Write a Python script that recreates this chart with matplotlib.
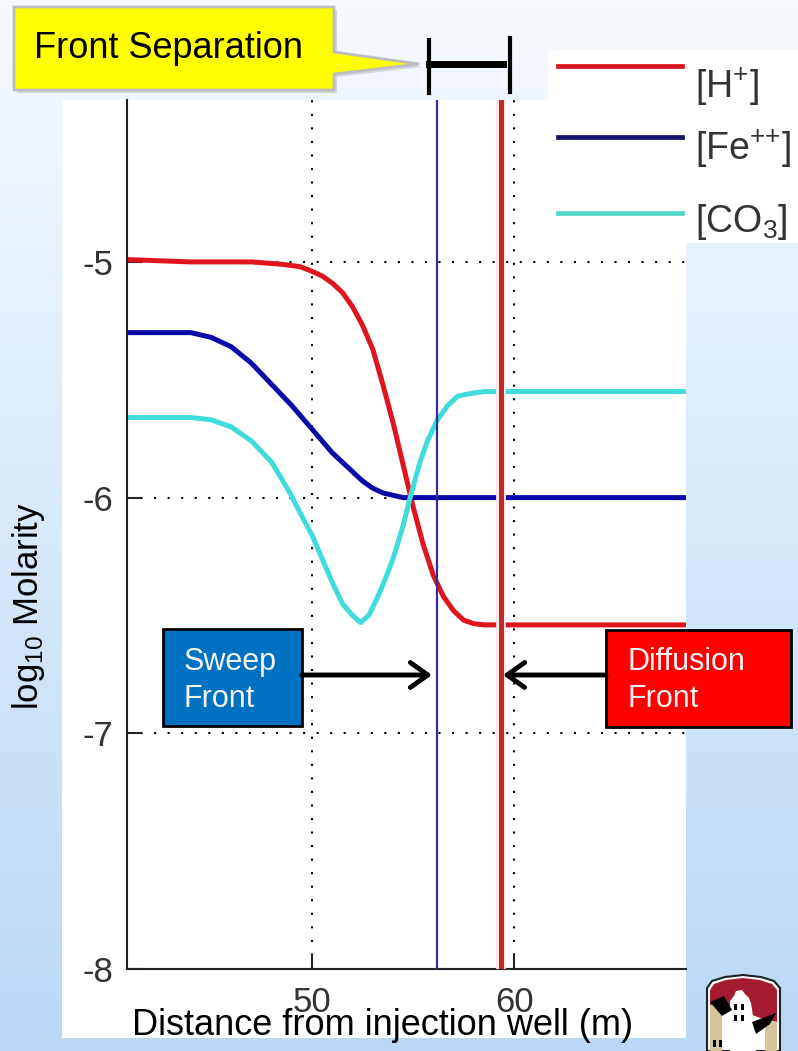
import numpy as np
import matplotlib
matplotlib.use('Agg')
import matplotlib.pyplot as plt
from matplotlib.patches import Rectangle, Polygon, FancyArrowPatch
from matplotlib.lines import Line2D

# --- data ---
dist_h = [40.84, 44.0, 47.0, 48.5, 49.4, 50.0, 50.5, 51.0, 51.5, 52.0, 52.5, 53.0, 53.5, 54.0,
          54.5, 55.0, 55.5, 56.0, 56.5, 57.0, 57.5, 58.0, 58.5, 68.5]
logc_h = [-4.99, -5.0, -5.0, -5.01, -5.02, -5.04, -5.06, -5.09, -5.13, -5.19, -5.27, -5.37, -5.52, -5.68,
          -5.86, -6.04, -6.2, -6.33, -6.42, -6.48, -6.52, -6.535, -6.54, -6.54]

dist_fe = [40.84, 44.0, 45.0, 46.0, 47.0, 48.0, 49.0, 50.0, 51.0, 52.0, 52.5, 53.0, 53.5, 54.0,
           54.5, 68.5]
logc_fe = [-5.30, -5.30, -5.32, -5.36, -5.43, -5.52, -5.61, -5.71, -5.81, -5.89, -5.93, -5.96, -5.98, -5.99,
           -6.0, -6.0]

dist_co3 = [40.84, 44.0, 45.0, 46.0, 47.0, 48.0, 48.9, 49.5, 50.0, 50.5, 51.0, 51.5, 52.0, 52.4,
            52.8, 53.2, 53.6, 54.0, 54.5, 54.85, 55.3, 55.7, 56.2, 56.7, 57.2, 57.7, 58.5, 68.5]
logc_co3 = [-5.66, -5.66, -5.67, -5.70, -5.76, -5.85, -5.98, -6.08, -6.16, -6.26, -6.36, -6.45, -6.50, -6.53,
            -6.50, -6.43, -6.35, -6.26, -6.12, -6.0, -5.86, -5.76, -5.67, -5.61, -5.57, -5.56, -5.55, -5.55]

sweep_x = 56.2
diffusion_x = 59.35

xticks = [50, 60]
yticks = [-8, -7, -6, -5]
ytick_labels = ['-8', '-7', '-6', '-5']
labels = [r'[H$^{+}$]', r'[Fe$^{{+}{+}}$]', r'[CO$_3$]']
curve_colors = ['#E0141C', '#0A0AA8', '#40DCDC']
legend_colors = ['#D8141E', '#14146E', '#50D6C6']

# --- figure in pixels ---
W, H = 798, 1051
def fx(x): return x / W
def fy(y): return 1 - y / H

plt.rcParams['font.family'] = ['Liberation Sans', 'DejaVu Sans']
plt.rcParams['mathtext.fontset'] = 'custom'
plt.rcParams['mathtext.rm'] = 'Liberation Sans'
plt.rcParams['mathtext.it'] = 'Liberation Sans:italic'

fig = plt.figure(figsize=(W/100, H/100), dpi=100)

# slide background gradient
bg = fig.add_axes([0, 0, 1, 1])
bg.set_zorder(-10)
bg.axis('off')
top = np.array([246, 250, 254]) / 255
bot = np.array([185, 216, 247]) / 255
g = np.linspace(0, 1, 256)[:, None, None]
bg.imshow(top + (bot - top) * g, aspect='auto', extent=[0, 1, 0, 1])

# white areas of the pasted plot + legend
fig.add_artist(Rectangle((fx(62), fy(1038)), (686-62)/W, (1038-100)/H, transform=fig.transFigure,
                         facecolor='white', edgecolor='none', zorder=-5))
fig.add_artist(Rectangle((fx(548), fy(243)), (798-548)/W, (243-50)/H, transform=fig.transFigure,
                         facecolor='white', edgecolor='none', zorder=-5))

# main axes
ax = fig.add_axes([fx(127), fy(969), (686-127)/W, (969-100)/H])
ax.set_facecolor('none')
ax.set_xlim(40.84, 68.5)
ax.set_ylim(-8, -4.313)

ax.plot(dist_h, logc_h, color=curve_colors[0], lw=3.6, zorder=2)
ax.plot(dist_fe, logc_fe, color=curve_colors[1], lw=3.6, zorder=2)
ax.plot(dist_co3, logc_co3, color=curve_colors[2], lw=3.6, zorder=2)

ax.axvline(sweep_x, color='#2E2E9E', lw=1.6, zorder=3)
ax.axvline(diffusion_x, color='#FAE6E6', lw=7, zorder=2.9)
ax.axvline(diffusion_x, color='#BE2A2E', lw=3.6, zorder=3)

ax.set_axisbelow(True)
ax.grid(True, color='k', linestyle=(0, (1, 5.5)), lw=1.5)
ax.set_xticks(xticks)
ax.set_yticks(yticks)
ax.set_yticklabels(ytick_labels)
ax.tick_params(direction='in', length=11, width=1.5, color='#222222',
               labelsize=25, labelcolor='#333333')
ax.tick_params(axis='x', pad=12)
ax.tick_params(axis='y', pad=10)
for s in ['top', 'right']:
    ax.spines[s].set_visible(False)
for s in ['left', 'bottom']:
    ax.spines[s].set_color('#222222')
    ax.spines[s].set_linewidth(1.5)

# axis labels
fig.text(fx(132), fy(1035), 'Distance from injection well (m)', fontsize=26,
         ha='left', va='baseline')
fig.text(fx(29), fy(606), r'log$_{10}$ Molarity', fontsize=25, rotation=90,
         ha='center', va='center')

# legend
line_y = [66, 137, 213]
text_base = [98, 160, 232]
for lab, col, ly, tb in zip(labels, legend_colors, line_y, text_base):
    fig.add_artist(Line2D([fx(558), fx(682)], [fy(ly), fy(ly)], transform=fig.transFigure,
                          color=col, lw=3.4))
    fig.text(fx(695), fy(tb), lab, fontsize=27, color='#333333', va='baseline')

# Front Separation callout
pts = [(14, 7), (334, 7), (334, 52), (419, 64), (334, 74), (334, 90), (14, 90)]
fig.add_artist(Polygon([(fx(x+3), fy(y+3)) for x, y in pts], closed=True, transform=fig.transFigure,
                       facecolor='#00000020', edgecolor='none', zorder=4.9))
fig.add_artist(Polygon([(fx(x), fy(y)) for x, y in pts], closed=True, transform=fig.transFigure,
                       facecolor='#FFFF00', edgecolor='#BDBDBD', lw=2, zorder=5))
fig.text(fx(34), fy(58), 'Front Separation', fontsize=26, va='baseline', zorder=6)

for (x0, y0, x1, y1, w) in [(429, 40, 429, 93, 3), (510, 38, 510, 92, 3), (429, 64, 503, 64, 5)]:
    fig.add_artist(Line2D([fx(x0), fx(x1)], [fy(y0), fy(y1)], transform=fig.transFigure,
                          color='k', lw=w, zorder=6))

# front boxes
fig.add_artist(Rectangle((fx(163), fy(726)), (302-163)/W, (726-629)/H, transform=fig.transFigure,
                         facecolor='#0070C0', edgecolor='k', lw=2, zorder=5))
fig.add_artist(Rectangle((fx(606), fy(727)), (791-606)/W, (727-630)/H, transform=fig.transFigure,
                         facecolor='#FF0000', edgecolor='k', lw=2, zorder=5))
for x, txt in [(184, 'Sweep'), (627, 'Diffusion')]:
    fig.text(fx(x), fy(670), txt, fontsize=22, color='#F4F4F4', va='baseline', zorder=6)
    fig.text(fx(x), fy(707), 'Front', fontsize=22, color='#F4F4F4', va='baseline', zorder=6)

for (a, b) in [((302, 675), (432, 675)), ((606, 675), (503, 675))]:
    fig.add_artist(FancyArrowPatch((fx(a[0]), fy(a[1])), (fx(b[0]), fy(b[1])),
                                   transform=fig.transFigure, arrowstyle='->,head_length=0.7,head_width=0.5',
                                   mutation_scale=18, lw=3.5, color='k', shrinkA=0, shrinkB=0, zorder=6))

# logo (rough shield)
def poly(p, fc, ec='none', lw=0, z=5):
    fig.add_artist(Polygon([(fx(x), fy(y)) for x, y in p], closed=True, transform=fig.transFigure,
                           facecolor=fc, edgecolor=ec, lw=lw, zorder=z))

poly([(707, 1051), (707, 988), (712, 981), (725, 977), (743, 975), (761, 977), (774, 981),
      (780, 988), (780, 1051)], 'white', '#222222', 1.5)
poly([(710, 990), (714, 984), (726, 980), (743, 978), (760, 980), (772, 984), (777, 990),
      (777, 1022), (760, 1018), (745, 1012), (728, 1008), (710, 1005)], '#A51C30')
poly([(710, 1005), (722, 1008), (722, 1051), (710, 1051)], '#D5C59A')
poly([(765, 1020), (777, 1022), (777, 1051), (765, 1051)], '#D5C59A')
poly([(730, 1001), (734, 996), (736, 991), (742, 990), (745, 994), (749, 998), (751, 1003),
      (753, 1016), (756, 1030), (756, 1051), (730, 1051)], 'white')
poly([(710, 1002), (724, 996), (732, 1010), (722, 1016)], 'black')
poly([(752, 1022), (776, 1013), (770, 1024), (756, 1034)], 'black')
for (x, y, w, h) in [(734, 1004, 3, 6), (741, 1004, 3, 6), (734, 1015, 3, 6), (741, 1015, 3, 6),
                     (713, 1040, 3, 7), (719, 1040, 3, 7)]:
    fig.add_artist(Rectangle((fx(x), fy(y+h)), w/W, h/H, transform=fig.transFigure,
                             facecolor='black', edgecolor='none', zorder=6))

fig.savefig('out.png', dpi=100)
